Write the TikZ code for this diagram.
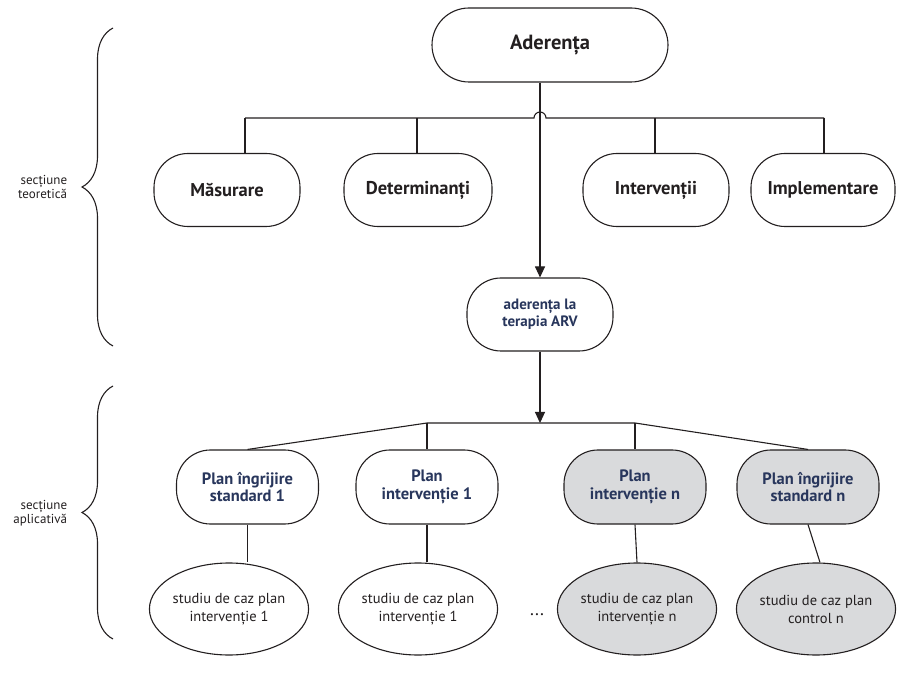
\documentclass[tikz,border=0pt]{standalone}
\usepackage{fontspec}
\setmainfont{PT Sans}
\usetikzlibrary{arrows.meta,decorations.pathreplacing,shapes.geometric,calc}
\definecolor{navy}{RGB}{40,54,92}
\definecolor{boxgrey}{RGB}{217,218,220}
\definecolor{ink}{RGB}{35,31,32}
\begin{document}
\begin{tikzpicture}[x=1pt,y=1pt,line width=1.1pt,draw=ink,
  topbox/.style={draw=ink,fill=white,rounded corners=34pt,align=center,inner sep=0pt,
    minimum width=146pt,minimum height=73pt,text=ink,font=\bfseries\fontsize{18.5}{20}\selectfont},
  planbox/.style={draw=ink,rounded corners=34pt,align=center,inner sep=0pt,
    minimum width=142pt,minimum height=74pt,text=navy,font=\bfseries\fontsize{16.5}{17.5}\selectfont},
  casebox/.style={draw=ink,ellipse,align=center,inner sep=0pt,
    minimum width=144pt,minimum height=92pt,text=ink,font=\fontsize{14.5}{18}\selectfont},
  arr/.style={-{Triangle[length=11pt,width=10pt]}},
  bracestyle/.style={decorate,decoration={brace,amplitude=31pt}},
  sidelabel/.style={anchor=east,align=right,text=ink,font=\fontsize{13}{14}\selectfont}
]
\useasboundingbox (0,0) rectangle (899,675);

% top
\node[topbox,minimum width=236pt,minimum height=74pt,rounded corners=37pt,
  font=\bfseries\fontsize{20.5}{22}\selectfont] (ad) at (550,630) {Aderența};

\node[topbox] (m)  at (227,485) {Măsurare};
\node[topbox,minimum width=148pt] (d)  at (418,485) {Determinanți};
\node[topbox] (iv) at (656,485) {Intervenții};
\node[topbox,minimum width=144pt] (im) at (823,485) {Implementare};

\node[topbox,minimum height=73pt,text=navy,font=\bfseries\fontsize{15}{16.5}\selectfont] (arv) at (540,360.5) {aderența la\\terapia ARV};

% upper bus with hop
\coordinate (bm) at (245,557);
\coordinate (bd) at (417,557);
\coordinate (biv) at (655,557);
\coordinate (bim) at (824,557);
\coordinate (hopL) at (534,557);
\draw (bm) -- (hopL) arc[start angle=180,end angle=0,radius=6] -- (bim);
\draw (bm) -- (bm |- m.north);
\draw (bd) -- (bd |- d.north);
\draw (biv) -- (biv |- iv.north);
\draw (bim) -- (bim |- im.north);
\draw[arr] (ad.south -| arv.north) -- (arv.north);

% lower row
\node[planbox,fill=white] (n1) at (247.5,188) {Plan îngrijire\\standard 1};
\node[planbox,fill=white] (n2) at (427,188) {Plan\\intervenție 1};
\node[planbox,fill=boxgrey] (n3) at (635,188) {Plan\\intervenție n};
\node[planbox,fill=boxgrey] (n4) at (808,188) {Plan îngrijire\\standard n};

\coordinate (lb) at (540,252);
\coordinate (lb2) at (n2.north |- lb);
\coordinate (lb3) at (n3.north |- lb);
\draw[arr] (arv.south) -- (lb);
\draw (n1.north) -- (lb2) -- (lb3) -- (n4.north);
\draw (lb2) -- (n2.north);
\draw (lb3) -- (n3.north);

% case studies
\node[casebox,fill=white] (e1) at (229,66) {studiu de caz plan\\intervenție 1};
\node[casebox,fill=white] (e2) at (418,66) {studiu de caz plan\\intervenție 1};
\node[casebox,fill=boxgrey] (e3) at (637,66) {studiu de caz plan\\intervenție n};
\node[casebox,fill=boxgrey] (e4) at (816,66) {studiu de caz plan\\control n};
\node[text=ink,font=\fontsize{18}{18}\selectfont] (dots) at (537,60) {...};

\draw (n1.south) -- (n1.south |- e1.north);
\draw (n2.south) -- (n2.south |- e2.north);
\draw (n3.south) -- (e3.north);
\draw (n4.south) -- ([xshift=4pt]e4.north);

% braces
\coordinate (br1a) at (113,329);
\coordinate (br1b) at (113,647);
\coordinate (br2a) at (113,36);
\coordinate (br2b) at (113,289);
\draw[bracestyle] (br1a) -- (br1b);
\draw[bracestyle] (br2a) -- (br2b);
\node[sidelabel] (lt) at (71,488) {secțiune\\teoretică};
\node[sidelabel] (la) at (71,162) {secțiune\\aplicativă};
\end{tikzpicture}
\end{document}
